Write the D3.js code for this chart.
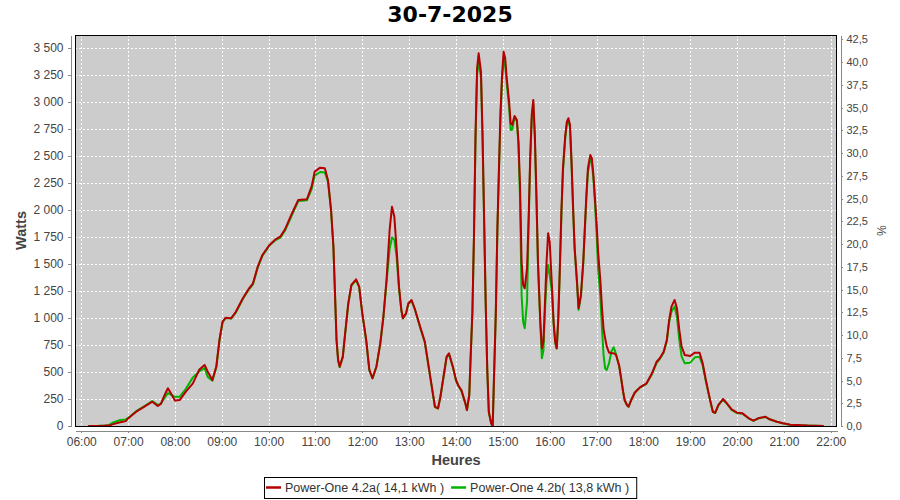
<!DOCTYPE html>
<html><head><meta charset="utf-8">
<script src="https://cdn.jsdelivr.net/npm/d3@7"></script>
<style>body{margin:0;background:#fff}svg{display:block}</style>
</head><body>
<svg id="chart" width="900" height="500"></svg>
<script>
const chartTitle = "30-7-2025";
const seriesNames = ["Power-One 4.2a( 14,1 kWh )", "Power-One 4.2b( 13,8 kWh )"];
const hourTicks = ["06:00","07:00","08:00","09:00","10:00","11:00","12:00","13:00","14:00","15:00","16:00","17:00","18:00","19:00","20:00","21:00","22:00"];
const wattTicks = [0,250,500,750,1000,1250,1500,1750,2000,2250,2500,2750,3000,3250,3500];
const pctTicks = [0,2.5,5,7.5,10,12.5,15,17.5,20,22.5,25,27.5,30,32.5,35,37.5,40,42.5];

const times = ["06:09","06:20","06:30","06:36","06:40","06:50","06:57","07:00","07:05","07:10","07:21","07:31","07:38","07:42","07:47","07:51","07:55","08:00","08:06","08:14","08:23","08:31","08:38","08:42","08:48","08:53","08:57","09:01","09:05","09:12","09:18","09:27","09:35","09:40","09:46","09:52","10:01","10:09","10:15","10:21","10:30","10:38","10:49","10:55","10:59","11:06","11:12","11:16","11:20","11:23","11:25","11:27","11:29","11:31","11:35","11:38","11:42","11:46","11:52","11:56","12:00","12:05","12:09","12:13","12:18","12:23","12:27","12:31","12:35","12:38","12:41","12:44","12:47","12:50","12:52","12:56","12:59","13:03","13:07","13:14","13:20","13:25","13:29","13:33","13:37","13:40","13:44","13:48","13:51","13:56","14:00","14:03","14:07","14:12","14:14","14:17","14:19","14:21","14:23","14:25","14:27","14:29","14:32","14:34","14:36","14:38","14:40","14:42","14:45","14:47","14:49","14:51","14:53","14:55","14:57","14:59","15:01","15:03","15:05","15:08","15:10","15:12","15:15","15:18","15:20","15:22","15:24","15:26","15:28","15:31","15:33","15:35","15:37","15:39","15:41","15:43","15:45","15:48","15:50","15:52","15:54","15:56","15:58","16:00","16:03","16:05","16:07","16:09","16:11","16:13","16:15","16:17","16:20","16:22","16:24","16:26","16:28","16:30","16:32","16:35","16:37","16:40","16:43","16:45","16:47","16:49","16:52","16:54","16:56","16:58","17:00","17:02","17:05","17:07","17:09","17:11","17:13","17:16","17:19","17:22","17:25","17:29","17:32","17:34","17:36","17:39","17:41","17:45","17:49","17:56","18:04","18:11","18:17","18:21","18:26","18:30","18:33","18:36","18:40","18:43","18:46","18:49","18:53","19:00","19:06","19:12","19:16","19:20","19:25","19:29","19:32","19:36","19:42","19:47","19:53","20:00","20:07","20:15","20:21","20:27","20:36","20:42","20:51","20:59","21:08","21:17","21:30","21:51"];

const powerA = [0,0,2,4,15,35,45,70,100,130,180,225,185,205,290,350,300,235,240,318,395,520,565,503,425,550,796,966,1003,997,1058,1182,1275,1321,1475,1583,1676,1729,1753,1821,1970,2093,2099,2216,2355,2392,2386,2278,2000,1660,1229,796,611,549,642,858,1136,1306,1358,1290,1043,796,519,442,549,765,1012,1352,1815,2030,1938,1630,1290,1074,997,1043,1136,1167,1090,920,781,549,364,179,164,271,457,642,673,549,426,375,330,210,148,290,688,1058,1769,2695,3312,3451,3281,2695,1923,1151,534,132,25,0,534,1058,1830,2386,2910,3250,3466,3405,3220,3003,2803,2788,2871,2834,2633,2232,1521,1306,1275,1460,1923,2479,2880,3019,2695,2139,1521,966,720,781,1151,1521,1784,1707,1275,966,781,720,997,1460,1985,2386,2695,2818,2849,2788,2448,2016,1646,1336,1090,1213,1521,1830,2139,2386,2510,2479,2324,2108,1892,1614,1336,1090,900,812,740,680,673,673,657,560,420,320,240,194,179,250,310,360,395,488,595,627,688,796,981,1105,1167,1090,889,734,657,648,679,679,580,426,256,132,123,194,250,210,154,123,117,71,49,71,86,62,40,25,12,9,4,0];

const powerB = [0,1,4,10,30,55,60,75,105,135,185,230,195,205,265,305,290,270,270,345,450,505,535,455,420,545,790,960,1000,995,1050,1175,1268,1312,1465,1575,1670,1722,1745,1808,1955,2082,2090,2190,2318,2352,2348,2262,1990,1650,1222,792,606,545,638,850,1128,1298,1350,1284,1038,790,515,440,545,760,1005,1330,1640,1745,1725,1560,1270,1070,995,1040,1130,1160,1085,915,776,545,360,176,162,268,450,635,665,545,420,372,325,207,146,286,680,1045,1740,2650,3250,3380,3220,2660,1900,1140,530,130,25,0,530,1045,1800,2350,2860,3200,3390,3340,3170,2950,2741,2745,2855,2820,2600,2100,1213,966,904,1151,1850,2440,2840,2980,2660,2100,1490,940,627,700,1080,1350,1491,1400,1230,950,775,715,985,1440,1960,2360,2670,2790,2820,2765,2420,2000,1630,1320,1075,1200,1500,1810,2110,2350,2470,2440,2290,2060,1800,1460,1182,904,657,534,519,580,690,729,665,550,415,318,238,192,178,248,308,358,390,480,585,620,680,785,960,1060,1105,1012,796,642,580,586,636,640,560,415,250,130,120,190,245,206,150,120,114,70,48,70,84,60,39,24,12,8,4,0];

const colors = ["#b40000", "#00b400"];

const svg = d3.select("#chart");
const P = {left: 75, right: 837, top: 35, bottom: 426};
const parse = d3.timeParse("%H:%M");

const x = d3.scaleTime().domain([parse("05:52"), parse("22:08")]).range([P.left, P.right]);
const y = d3.scaleLinear().domain([0, 3620]).range([P.bottom, P.top]);
const y2 = d3.scaleLinear().domain([0, 42.98]).range([P.bottom, P.top]);

const loc = d3.formatLocale({decimal: ",", thousands: " ", grouping: [3], currency: ["", ""]});
const fmtW = loc.format(",d");
const fmtP = loc.format(".1f");

// plot background
svg.append("rect").attr("x", P.left).attr("y", P.top)
  .attr("width", P.right - P.left).attr("height", P.bottom - P.top)
  .attr("fill", "#cccccc");

// gridlines
const grid = svg.append("g").attr("stroke", "#ffffff").attr("stroke-width", 1)
  .attr("stroke-dasharray", "2,2").attr("shape-rendering", "crispEdges");
hourTicks.forEach(t => {
  const xx = Math.round(x(parse(t))) + 0.5;
  grid.append("line").attr("x1", xx).attr("x2", xx).attr("y1", P.top).attr("y2", P.bottom);
});
wattTicks.forEach(v => {
  if (v === 0) return;
  const yy = Math.round(y(v)) + 0.5;
  grid.append("line").attr("x1", P.left).attr("x2", P.right).attr("y1", yy).attr("y2", yy);
});

// lines
svg.append("defs").append("clipPath").attr("id", "clip")
  .append("rect").attr("x", P.left).attr("y", P.top)
  .attr("width", P.right - P.left).attr("height", P.bottom - P.top);

const rows = times.map((t, i) => ({t: parse(t), a: powerA[i], b: powerB[i]}));
const lineA = d3.line().x(d => x(d.t)).y(d => y(d.a));
const lineB = d3.line().x(d => x(d.t)).y(d => y(d.b));
const lg = svg.append("g").attr("clip-path", "url(#clip)");
lg.append("path").datum(rows).attr("d", lineB).attr("fill", "none")
  .attr("stroke", colors[1]).attr("stroke-width", 2).attr("stroke-linejoin", "round");
lg.append("path").datum(rows).attr("d", lineA).attr("fill", "none")
  .attr("stroke", colors[0]).attr("stroke-width", 2).attr("stroke-linejoin", "round");

// plot outline
svg.append("rect").attr("x", P.left + 0.5).attr("y", P.top + 0.5)
  .attr("width", P.right - P.left - 1).attr("height", P.bottom - P.top)
  .attr("fill", "none").attr("stroke", "#000").attr("stroke-width", 1);

const tickFont = "'Liberation Sans', Arial, sans-serif";
function styleAxis(g) {
  g.selectAll("path.domain").attr("stroke", "#888");
  g.selectAll(".tick line").attr("stroke", "#888");
  g.selectAll(".tick text").attr("fill", "#444").attr("font-size", 12).attr("font-family", tickFont);
  g.attr("shape-rendering", "crispEdges");
}

// bottom axis
const gx = svg.append("g").attr("transform", `translate(0,${P.bottom + 4.5})`)
  .call(d3.axisBottom(x).tickValues(hourTicks.map(parse)).tickFormat(d3.timeFormat("%H:%M"))
    .tickSizeInner(2).tickSizeOuter(0).tickPadding(5));
styleAxis(gx);

// left axis
const gy = svg.append("g").attr("transform", `translate(${P.left - 4.5},0)`)
  .call(d3.axisLeft(y).tickValues(wattTicks).tickFormat(fmtW).tickSizeInner(3).tickSizeOuter(0).tickPadding(4));
styleAxis(gy);

// right axis
const gy2 = svg.append("g").attr("transform", `translate(${P.right + 3.5},0)`)
  .call(d3.axisRight(y2).tickValues(pctTicks).tickFormat(fmtP).tickSizeInner(2).tickSizeOuter(0).tickPadding(4));
styleAxis(gy2);
gy2.selectAll(".tick text").attr("font-size", 11);

// axis labels
const labFont = "'Liberation Sans', Arial, sans-serif";
svg.append("text").attr("x", (P.left + P.right) / 2).attr("y", 465)
  .attr("text-anchor", "middle").attr("font-family", labFont).attr("font-size", 14.5)
  .attr("font-weight", "bold").attr("fill", "#444").text("Heures");
svg.append("text").attr("transform", `translate(26,${(P.top + P.bottom) / 2}) rotate(-90)`)
  .attr("text-anchor", "middle").attr("font-family", labFont).attr("font-size", 14.5)
  .attr("font-weight", "bold").attr("fill", "#444").text("Watts");
svg.append("text").attr("transform", `translate(877,${(P.top + P.bottom) / 2}) rotate(90)`)
  .attr("text-anchor", "middle").attr("font-family", labFont).attr("font-size", 12)
  .attr("fill", "#444").text("%");

// title
svg.append("text").attr("x", 450).attr("y", 22).attr("text-anchor", "middle")
  .attr("font-family", "'DejaVu Sans', sans-serif").attr("font-size", 22).attr("font-weight", "bold")
  .attr("fill", "#000").text(chartTitle);

// legend
const leg = svg.append("g");
const box = leg.append("rect").attr("fill", "#fff").attr("stroke", "#000").attr("stroke-width", 1);
let cx = 0;
seriesNames.forEach((name, i) => {
  const g = leg.append("g");
  g.append("line").attr("x1", cx + 2).attr("x2", cx + 17).attr("y1", 0).attr("y2", 0)
    .attr("stroke", colors[i]).attr("stroke-width", 2.5);
  const t = g.append("text").attr("x", cx + 21).attr("y", 0).attr("dy", "0.35em")
    .attr("font-family", tickFont).attr("font-size", 12.5).attr("fill", "#333").text(name);
  cx += 21 + t.node().getComputedTextLength() + 5;
});
const legW = cx + 2;
const legX = Math.round(450 - legW / 2);
leg.attr("transform", `translate(${legX},487.5)`);
box.attr("x", 0.5).attr("y", -10).attr("width", legW).attr("height", 21);
</script>
</body></html>
